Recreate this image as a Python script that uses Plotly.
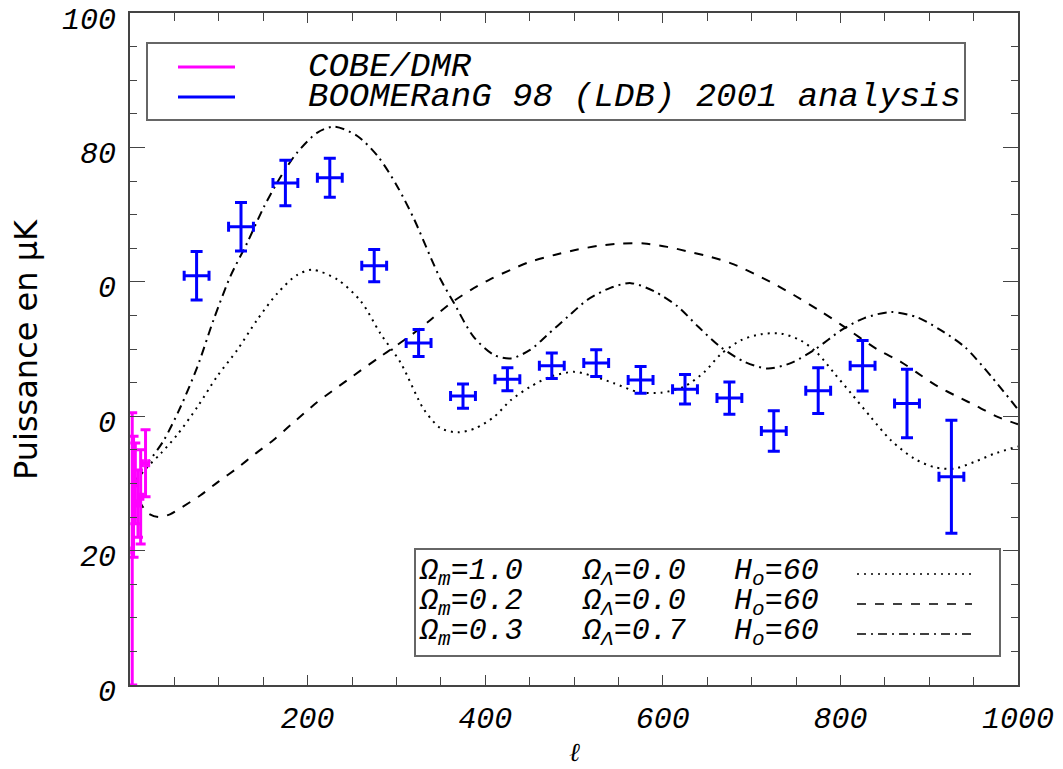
import plotly.graph_objects as go

# ---------------- data ----------------
boom_l = [75, 125, 175, 225, 275, 325, 375, 425, 475, 525, 575, 625, 675, 725, 775, 825, 875, 925]
boom_y = [60.9, 68.2, 74.7, 75.5, 62.4, 50.9, 43.0, 45.5, 47.5, 47.9, 45.4, 44.0, 42.7, 37.8, 43.8, 47.5, 41.9, 31.0]
boom_err = [3.6, 3.6, 3.4, 2.9, 2.4, 2.0, 1.8, 1.7, 1.9, 2.0, 2.0, 2.2, 2.4, 3.0, 3.4, 3.75, 5.1, 8.4]
boom_lerr = [14] * 18

cobe_l = [2.5, 4, 6, 9, 12, 17.5]
cobe_y = [20.0, 28.0, 30.0, 27.0, 28.0, 33.0]
cobe_eplus = [20.5, 9.0, 6.0, 5.0, 7.0, 5.0]
cobe_eminus = [20.0, 9.0, 6.0, 5.0, 7.0, 5.0]
cobe_lerr = [0.5, 1.0, 1.5, 2.0, 2.5, 3.5]

# Omega_m = 1.0, Omega_L = 0.0 (dotted)
dot_l = [2, 10, 20, 35, 53, 76, 98, 121, 143, 166, 188, 205, 234, 260, 282, 305, 331, 350, 369, 389,
         410, 429, 451, 474, 500, 523, 545, 572, 598, 624, 647, 665, 688, 710, 733, 755, 774, 793, 812,
         834, 857, 883, 906, 928, 951, 973, 1000]
dot_y = [30, 31, 32.5, 34.5, 37.2, 41.4, 45.9, 49.9, 54.3, 58.3, 61.0, 61.8, 60.3, 57.1, 52.3, 47.9, 41.0,
         38.2, 37.6, 38.2, 39.9, 42.4, 44.4, 45.9, 46.6, 45.9, 44.9, 43.6, 43.5, 44.4, 46.6, 49.2, 51.3,
         52.2, 52.3, 51.3, 49.4, 46.4, 43.4, 39.9, 36.4, 33.7, 32.4, 32.2, 33.2, 34.4, 35.5]

# Omega_m = 0.2, Omega_L = 0.0 (dashed)
dash_l = [2, 10, 20, 32, 45, 59, 79, 100, 121, 141, 162, 181, 211, 245, 279, 301, 327, 339, 361, 384,
          406, 429, 451, 478, 504, 530, 553, 579, 605, 632, 654, 680, 721, 748, 778, 801, 842, 868, 887,
          910, 932, 955, 977, 1000]
dash_y = [30, 27.5, 25.6, 25.0, 25.4, 26.5, 28.2, 30.3, 32.3, 34.4, 36.5, 38.7, 42.1, 45.4, 48.6, 50.6,
          53.1, 54.4, 56.8, 58.8, 60.4, 61.8, 63.0, 64.0, 64.8, 65.4, 65.7, 65.7, 65.2, 64.4, 63.7, 62.6,
          60.0, 58.0, 55.6, 53.6, 49.9, 48.1, 46.4, 44.4, 42.9, 41.4, 39.9, 38.8]

# Omega_m = 0.3, Omega_L = 0.7 (dash-dot)
dd_l = [2, 10, 20, 38, 57, 76, 94, 113, 132, 151, 170, 188, 211, 230, 256, 279, 301, 320, 339, 350, 365,
        387, 410, 429, 451, 470, 493, 515, 541, 564, 590, 617, 640, 665, 692, 718, 744, 771, 801, 827,
        857, 887, 913, 940, 970, 1000]
dd_y = [30, 31, 33, 36.4, 41.4, 47.4, 54.3, 60.8, 65.8, 71.2, 75.7, 79.2, 82.2, 83.1, 81.7, 78.7, 74.2,
        69.3, 63.5, 60.3, 56.8, 51.8, 49.1, 48.6, 49.9, 52.1, 54.8, 57.3, 59.1, 59.8, 58.6, 56.3, 53.3,
        50.3, 48.1, 47.1, 47.9, 49.9, 52.8, 54.6, 55.5, 54.7, 52.8, 50.3, 45.9, 41.0]

y_tickvals = [0, 20, 40, 60, 80, 100]
y_ticktext = ["0", "20", "0", "0", "80", "100"]
x_tickvals = [200, 400, 600, 800, 1000]
x_ticktext = ["200", "400", "600", "800", "1000"]

legend1_names = ["COBE/DMR", "BOOMERanG 98 (LDB) 2001 analysis"]
legend1_colors = ["#ff00ff", "#0000ff"]
model_om = ["1.0", "0.2", "0.3"]
model_ol = ["0.0", "0.0", "0.7"]
model_h0 = ["60", "60", "60"]
model_dash = ["2px,5px", "9px,9px", "9px,5px,2px,5px"]

# ---------------- layout geometry ----------------
OFF = 8                      # default page margin around the plot div
W, H = 1063 - OFF, 769 - OFF
L, R, T, B = 130 - OFF, 45, 13 - OFF, 84
PW, PH = W - L - R, H - T - B


def fx(p):  # screen pixel -> paper x
    return (p - OFF - L) / PW


def fy(p):  # screen pixel -> paper y
    return (H - B - (p - OFF)) / PH


MONO = "Liberation Mono"
fig = go.Figure()

for xs, ys, dsh in [(dot_l, dot_y, model_dash[0]), (dash_l, dash_y, model_dash[1]), (dd_l, dd_y, model_dash[2])]:
    fig.add_trace(go.Scatter(x=xs, y=ys, mode="lines", hoverinfo="skip", showlegend=False,
                             line=dict(color="black", width=2, dash=dsh, shape="spline", smoothing=0.8)))

fig.add_trace(go.Scatter(
    x=cobe_l, y=cobe_y, mode="markers", showlegend=False,
    marker=dict(size=1, color="#ff00ff"),
    error_y=dict(type="data", symmetric=False, array=cobe_eplus, arrayminus=cobe_eminus,
                 color="#ff00ff", thickness=3, width=5),
    error_x=dict(type="data", array=cobe_lerr, color="#ff00ff", thickness=3, width=4),
))

fig.add_trace(go.Scatter(
    x=boom_l, y=boom_y, mode="markers", showlegend=False,
    marker=dict(size=1, color="#0000ff"),
    error_y=dict(type="data", array=boom_err, color="#0000ff", thickness=3, width=6),
    error_x=dict(type="data", array=boom_lerr, color="#0000ff", thickness=3, width=5),
))

axis_col = "#444444"
fig.update_xaxes(range=[0, 1000], tickvals=x_tickvals, ticktext=x_ticktext,
                 ticks="inside", ticklen=10, tickwidth=1, tickcolor=axis_col,
                 minor=dict(tickvals=list(range(50, 1000, 50)), ticks="inside", ticklen=8,
                            tickcolor=axis_col, tickwidth=1),
                 showline=True, linecolor=axis_col, linewidth=2, mirror="ticks",
                 showgrid=False, zeroline=False, ticklabelstandoff=5, ticklabeloverflow="allow",
                 tickfont=dict(family=MONO, size=30, style="italic", color="black"))
fig.update_yaxes(range=[0, 100], tickvals=y_tickvals, ticktext=y_ticktext,
                 ticks="inside", ticklen=15, tickwidth=1, tickcolor=axis_col,
                 minor=dict(tickvals=[v for v in range(5, 100, 5) if v % 20], ticks="inside", ticklen=7,
                            tickcolor=axis_col, tickwidth=1),
                 showline=True, linecolor=axis_col, linewidth=2, mirror="ticks",
                 showgrid=False, zeroline=False, ticklabelstandoff=6, ticklabelshift=5,
                 ticklabeloverflow="allow",
                 tickfont=dict(family=MONO, size=30, style="italic", color="black"))

shapes = []
annotations = []

# legend 1
shapes.append(dict(type="rect", xref="paper", yref="paper", x0=fx(147), x1=fx(965), y0=fy(43), y1=fy(120),
                   line=dict(color="#666666", width=2), fillcolor="white", layer="above"))
for i, (name, col) in enumerate(zip(legend1_names, legend1_colors)):
    yy = [67, 97][i]
    shapes.append(dict(type="line", xref="paper", yref="paper", x0=fx(178), x1=fx(235), y0=fy(yy), y1=fy(yy),
                       line=dict(color=col, width=3), layer="above"))
    annotations.append(dict(text=name, xref="paper", yref="paper", x=fx(306), y=fy(yy), xanchor="left",
                            yanchor="middle", showarrow=False,
                            font=dict(family=MONO, size=34, style="italic", color="black")))

# legend 2
shapes.append(dict(type="rect", xref="paper", yref="paper", x0=fx(415), x1=fx(1000), y0=fy(549), y1=fy(656),
                   line=dict(color="#666666", width=2), fillcolor="white", layer="above"))
for i in range(3):
    yy = [572, 602, 632][i]
    f = dict(family=MONO, size=30, style="italic", color="black")
    annotations.append(dict(text="Ω<sub>m</sub>=" + model_om[i], xref="paper", yref="paper", x=fx(417), y=fy(yy),
                            xanchor="left", yanchor="middle", showarrow=False, font=f))
    annotations.append(dict(text="Ω<sub>Λ</sub>=" + model_ol[i], xref="paper", yref="paper", x=fx(580), y=fy(yy),
                            xanchor="left", yanchor="middle", showarrow=False, font=f))
    annotations.append(dict(text="H<sub>o</sub>=" + model_h0[i], xref="paper", yref="paper", x=fx(732), y=fy(yy),
                            xanchor="left", yanchor="middle", showarrow=False, font=f))
    shapes.append(dict(type="line", xref="paper", yref="paper", x0=fx(857), x1=fx(972), y0=fy(yy + 2),
                       y1=fy(yy + 2), line=dict(color="black", width=1.5, dash=model_dash[i]), layer="above"))

# axis titles
annotations.append(dict(text="ℓ", xref="paper", yref="paper", x=fx(574), y=fy(752), xanchor="center",
                        yanchor="middle", showarrow=False,
                        font=dict(family="DejaVu Serif", size=26, style="italic", color="black")))
annotations.append(dict(text="Puissance en µK", xref="paper", yref="paper", x=fx(26), y=fy(350),
                        xanchor="center", yanchor="middle", textangle=-90, showarrow=False,
                        font=dict(family="DejaVu Sans", size=32, color="black")))

fig.update_layout(width=W, height=H, margin=dict(l=L, r=R, t=T, b=B, autoexpand=False),
                  plot_bgcolor="white", paper_bgcolor="white",
                  shapes=shapes, annotations=annotations, showlegend=False)

fig.write_html("out.html")
